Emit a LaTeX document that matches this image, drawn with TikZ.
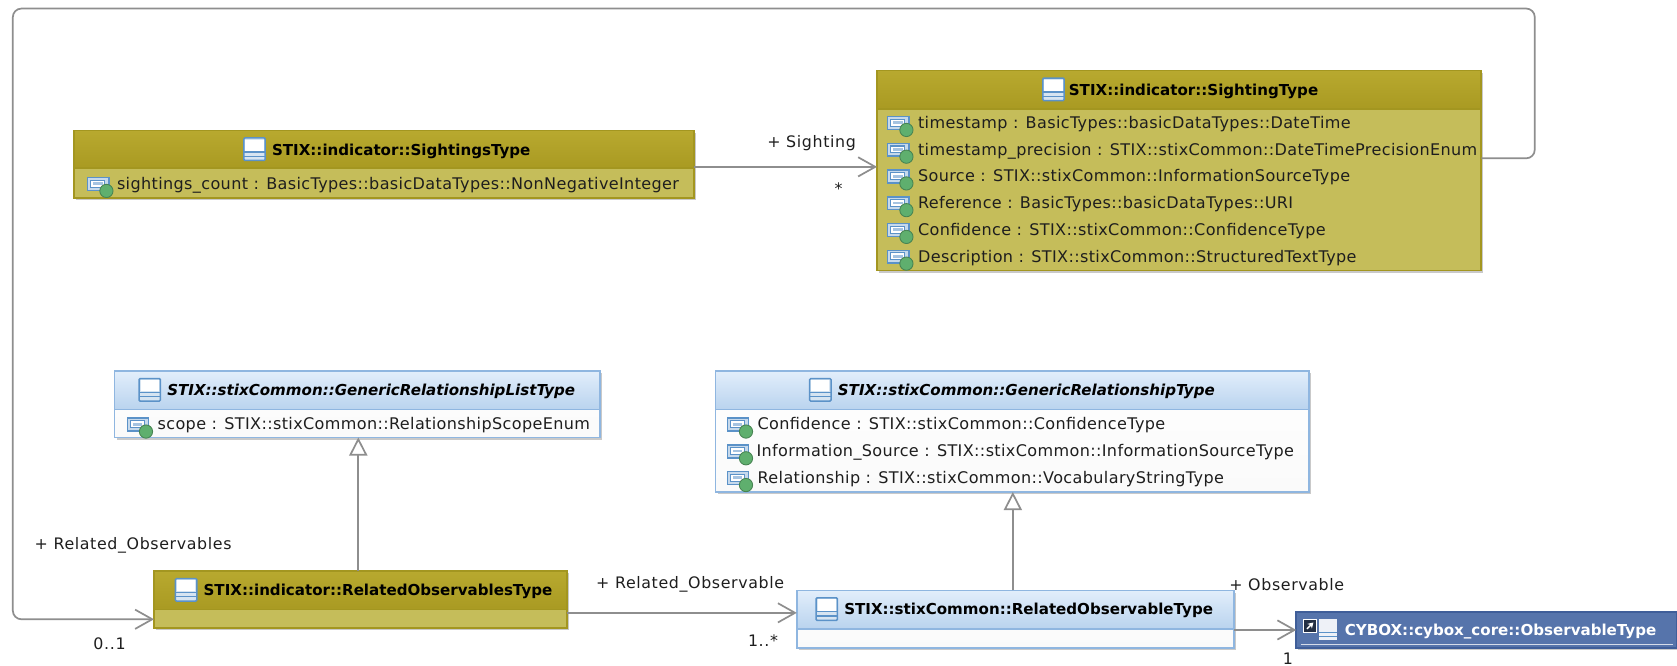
\documentclass[tikz,border=0pt]{standalone}
\usepackage{fontspec}
\setmainfont{DejaVu Sans}
\usetikzlibrary{arrows.meta,shadows}
\definecolor{olvBorder}{HTML}{A39620}
\definecolor{olvTop}{HTML}{B8A92F}
\definecolor{olvBot}{HTML}{A99A22}
\definecolor{olvBody}{HTML}{C5BD5A}
\definecolor{bluBorder}{HTML}{8FB6E0}
\definecolor{bluTop}{HTML}{E2EEFB}
\definecolor{bluBot}{HTML}{B9D3EE}
\definecolor{obsBlue}{HTML}{5674AB}
\definecolor{obsBorder}{HTML}{3F5E99}
\definecolor{iconBlue}{HTML}{5B92C8}
\definecolor{iconGreen}{HTML}{5FAF6E}
\definecolor{lineGray}{HTML}{8E8E8E}
\definecolor{txt}{HTML}{1E1E1E}
\tikzset{
  x=0.5pt,y=-0.5pt,
  boxbase/.style={anchor=north west,inner sep=0pt,outer sep=0pt,line width=0.8pt,
    drop shadow={shadow xshift=1pt,shadow yshift=-1pt,opacity=.35,fill=black!60}},
  olvbox/.style={boxbase,draw=olvBorder,fill=olvBody},
  blubox/.style={boxbase,draw=bluBorder,top color=white,bottom color=white!98!black},
  obsbox/.style={boxbase,draw=obsBorder,fill=obsBlue},
  headbase/.style={anchor=north west,inner sep=0pt,outer sep=0pt,line width=0.8pt},
  olvhead/.style={headbase,draw=olvBorder,top color=olvTop,bottom color=olvBot},
  bluhead/.style={headbase,draw=bluBorder,top color=bluTop,bottom color=bluBot},
  rowtext/.style={anchor=base west,inner sep=0pt,text=txt,font=\fontsize{7.5}{8}\selectfont\addfontfeature{LetterSpace=2.3}},
  titletext/.style={anchor=base west,inner sep=0pt,text=black,font=\fontsize{7.05}{8}\selectfont\bfseries},
  abstracttext/.style={titletext,font=\fontsize{7.05}{8}\selectfont\bfseries\itshape},
  endlabel/.style={anchor=base west,inner sep=0pt,text=txt,font=\fontsize{7.4}{8}\selectfont\addfontfeature{LetterSpace=4}},
  link/.style={draw=lineGray,line width=0.8pt},
  assoc/.style={link,-{Straight Barb[length=8pt,width=9pt,line width=0.8pt]}},
  general/.style={link,-{Triangle[open,length=8.5pt,width=8.5pt,fill=white,line width=0.8pt]}},
}
% class box: style, name, x, y, w, h, header style, header height
\newcommand{\classbox}[8]{%
  \node[#1,minimum width=#5*0.5pt,minimum height=#6*0.5pt] (#2) at (#3,#4) {};
  \node[#7,minimum width=#5*0.5pt,minimum height=#8*0.5pt] (#2head) at (#3,#4) {};
}
\newcommand{\classicon}[2]{%
  \begin{scope}[shift={(#1,#2)}]
    \fill[iconBlue!25!white,draw=iconBlue,line width=0.7pt,rounded corners=0.5pt] (0,0) rectangle (20,21);
    \fill[white] (1.5,1.5) rectangle (18.5,12);
    \draw[iconBlue,line width=0.6pt] (0,13) -- (20,13) (0,17) -- (20,17);
  \end{scope}}
\newcommand{\attricon}[2]{%
  \begin{scope}[shift={(#1,#2)}]
    \fill[iconBlue!35!white,draw=iconBlue,line width=0.7pt] (0,-6) rectangle (20,6);
    \draw[iconBlue,fill=white,line width=0.5pt] (3,-3.5) rectangle (16,3);
    \fill[iconBlue!55!white] (5,-1.5) rectangle (14,1);
    \fill[iconGreen,draw=iconGreen!75!black,line width=0.4pt] (17.5,6.5) circle[radius=6.2];
  \end{scope}}
% row: name, icon x, text x, centre y, text
\newcommand{\attrrow}[5]{%
  \attricon{#2}{#4}
  \node[rowtext] (#1) at (#3,#4+5) {#5};
}
\begin{document}
\begin{tikzpicture}
\useasboundingbox (0,0) rectangle (1568,621.8);
\fill[white] (0,0) rectangle (1568,621.8);

% SightingsType
\classbox{olvbox}{sightings}{69}{122}{580}{63}{olvhead}{35}
\classicon{228}{129}
\node[titletext] (sightingsT) at (254,145) {STIX::indicator::SightingsType};
\attrrow{sc}{82}{109}{172}{sightings\_count : BasicTypes::basicDataTypes::NonNegativeInteger}

% SightingType
\classbox{olvbox}{sighting}{820}{66}{565}{187}{olvhead}{36}
\classicon{975}{73}
\node[titletext] (sightingT) at (999,89) {STIX::indicator::SightingType};
\attrrow{s1}{830}{858}{115}{timestamp : BasicTypes::basicDataTypes::DateTime}
\attrrow{s2}{830}{858}{140}{timestamp\_precision : STIX::stixCommon::DateTimePrecisionEnum}
\attrrow{s3}{830}{858}{165}{Source : STIX::stixCommon::InformationSourceType}
\attrrow{s4}{830}{858}{190}{Reference : BasicTypes::basicDataTypes::URI}
\attrrow{s5}{830}{858}{215}{Confidence : STIX::stixCommon::ConfidenceType}
\attrrow{s6}{830}{858}{240}{Description : STIX::stixCommon::StructuredTextType}

% GenericRelationshipListType
\classbox{blubox}{grl}{107}{347}{454}{62}{bluhead}{36}
\classicon{130}{354}
\node[abstracttext] (grlT) at (156,370) {STIX::stixCommon::GenericRelationshipListType};
\attrrow{g1}{119}{147}{397}{scope : STIX::stixCommon::RelationshipScopeEnum}

% GenericRelationshipType
\classbox{blubox}{grt}{669}{347}{555}{113}{bluhead}{36}
\classicon{757}{354}
\node[abstracttext] (grtT) at (783,370) {STIX::stixCommon::GenericRelationshipType};
\attrrow{r1}{680}{708}{397}{Confidence : STIX::stixCommon::ConfidenceType}
\attrrow{r2}{680}{707}{422}{Information\_Source : STIX::stixCommon::InformationSourceType}
\attrrow{r3}{680}{708}{447}{Relationship : STIX::stixCommon::VocabularyStringType}

% RelatedObservablesType
\classbox{olvbox}{ros}{144}{534}{386}{53}{olvhead}{36}
\classicon{164}{541}
\node[titletext] (rosT) at (190,557) {STIX::indicator::RelatedObservablesType};

% RelatedObservableType
\classbox{blubox}{rot}{745}{552}{409}{54}{bluhead}{36}
\classicon{763}{559}
\node[titletext] (rotT) at (789,575) {STIX::stixCommon::RelatedObservableType};

% ObservableType
\node[obsbox,minimum width=178pt,minimum height=17pt] (obs) at (1212,572) {};
\draw[white!75!obsBlue,line width=0.5pt] (1216,602.5) -- (1564,602.5);
\draw[white,fill=obsBlue!40!black,line width=0.5pt] (1219,579) rectangle (1231,591);
\draw[white,line width=0.7pt,-{Stealth[length=2.5pt,width=3pt]}] (1222,588) -- (1228,582);
\fill[white!90!obsBlue] (1233,579) rectangle (1250,598);
\draw[iconBlue,line width=0.5pt] (1233,591) -- (1250,591) (1233,595) -- (1250,595);
\node[titletext,text=white] (obsT) at (1257,594) {CYBOX::cybox\_core::ObservableType};

% Connectors
\draw[assoc] ([yshift=-1.25pt]sightings.east) -- ([yshift=-1.25pt]sightings.east -| sighting.west);
\coordinate (loopA) at (1435,8);
\coordinate (loopB) at (12,8);
\draw[assoc,rounded corners=4pt] ([yshift=5.75pt]sighting.east) -| (loopA) -- (loopB) |- ([yshift=-9.25pt]ros.west);
\draw[general] ([xshift=-1pt]ros.north) -- ([xshift=-1pt]ros.north |- grl.south);
\draw[general] ([xshift=0.25pt]grt.south |- rot.north) -- ([xshift=0.25pt]grt.south);
\draw[assoc] ([yshift=-6.25pt]ros.east) -- ([yshift=-6.25pt]ros.east -| rot.west);
\draw[assoc] ([yshift=-5pt]rot.east) -- ([yshift=-5pt]rot.east -| obs.west);

% End labels
\node[endlabel] (l1) at (717,138) {+ Sighting};
\node[endlabel] (l2) at (780,182) {*};
\node[endlabel] (l3) at (32,514) {+ Related\_Observables};
\node[endlabel] (l4) at (87,607) {0..1};
\node[endlabel] (l5) at (557,550) {+ Related\_Observable};
\node[endlabel] (l6) at (699,604) {1..*};
\node[endlabel] (l7) at (1149,552) {+ Observable};
\node[endlabel] (l8) at (1199,621) {1};
\end{tikzpicture}
\end{document}
